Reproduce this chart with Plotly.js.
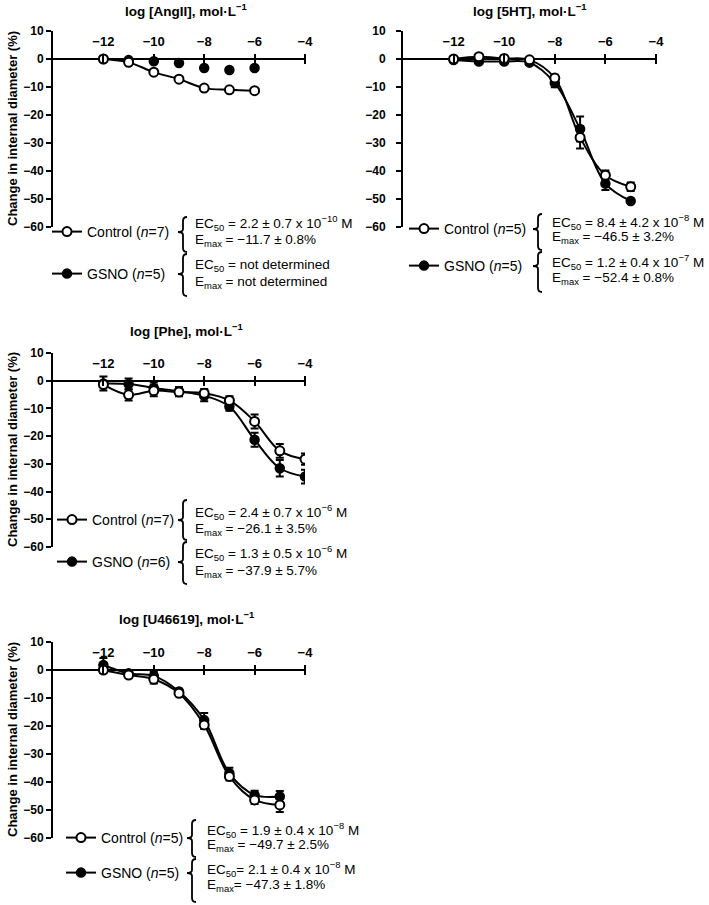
<!DOCTYPE html>
<html>
<head>
<meta charset="utf-8">
<script src="https://cdn.plot.ly/plotly-3.0.1.min.js"></script>
<style>html,body{margin:0;padding:0;background:#fff}#chart{width:709px;height:905px}</style>
</head>
<body>
<div id="chart"></div>
<script>
const W = 709, H = 905;
const fx = px => px / W;
const fy = py => 1 - py / H;
const FONT = 'Liberation Sans, Arial, sans-serif';

// log molar concentrations and % change in internal diameter (mean, SEM)
const logAngII = [-12, -11, -10, -9, -8, -7, -6];
const angIIControl = [0, -1.2, -4.7, -7.2, -10.4, -11, -11.3];
const angIIGsno = [0, -0.4, -0.8, -1.4, -3.2, -3.9, -3.2];

const log5HT = [-12, -11, -10, -9, -8, -7, -6, -5];
const ht5Control = [0, 0.8, 0.2, -0.3, -6.8, -28, -41.5, -45.6];
const ht5ControlErr = [0.5, 0.6, 0.5, 0.5, 1.2, 4, 1.7, 1.5];
const ht5Gsno = [-0.4, -0.9, -0.9, -1.3, -8.6, -25, -44.5, -50.7];
const ht5GsnoErr = [0.5, 0.5, 0.5, 0.5, 1.5, 4.5, 2.3, 0.5];

const logPhe = [-12, -11, -10, -9, -8, -7, -6, -5, -4];
const pheControl = [-1.4, -5.1, -3.6, -4.1, -4.5, -7.1, -14.7, -25.3, -28.3];
const pheControlErr = [0.8, 2, 2, 1.5, 1.5, 1.5, 2.5, 2.5, 2];
const pheGsno = [-1, -1.2, -2.6, -3.8, -5.4, -9.3, -21.3, -31.6, -34.6];
const pheGsnoErr = [2.5, 2, 2, 1.5, 2, 1.5, 2.5, 3, 2.5];

const logU466 = [-12, -11, -10, -9, -8, -7, -6, -5];
const u466Control = [0, -1.8, -3.3, -8.3, -19.6, -38, -46.4, -48.2];
const u466ControlErr = [1, 1, 1.5, 1, 1.5, 1.5, 1.5, 2.5];
const u466Gsno = [1.8, -1.2, -2.1, -7.7, -17.9, -36.9, -44.6, -45.2];
const u466GsnoErr = [2.5, 1, 1.5, 1, 2.5, 2, 1.5, 2];

const xTicks = [-12, -10, -8, -6, -4];
const xTickText = ['\u221212', '\u221210', '\u22128', '\u22126', '\u22124'];
const yTicks = [10, 0, -10, -20, -30, -40, -50, -60];
const yTickText = ['10', '0', '\u221210', '\u221220', '\u221230', '\u221240', '\u221250', '\u221260'];

const panels = [
  {title: 'log [AngII], mol·L<sup>\u22121</sup>', x0: 53, x1: 305, y0: 31, y1: 227, tx: 186, ty: 10, ytitle: true, ylstand: 0,
   ctrlN: 7, gsnoN: 5, legX: 47, legC: 232, legG: 274, bx: 183,
   bC: [217, 252, 232], bG: [254, 296, 274], ax: 193, lines: [223, 240, 265, 282],
   txt: ['EC<sub>50</sub> = 2.2 ± 0.7 x 10<sup>\u221210</sup> M', 'E<sub>max</sub> = \u221211.7 ± 0.8%',
         'EC<sub>50</sub> = not determined', 'E<sub>max</sub> = not determined']},
  {title: 'log [5HT], mol·L<sup>\u22121</sup>', x0: 403, x1: 656, y0: 31, y1: 227, tx: 530, ty: 10, ytitle: false, ylstand: 8,
   ctrlN: 5, gsnoN: 5, legX: 404, legC: 229, legG: 266, bx: 538,
   bC: [214, 250, 229], bG: [252, 292, 266], ax: 550, lines: [222, 238, 262, 278],
   txt: ['EC<sub>50</sub> = 8.4 ± 4.2 x 10<sup>\u22128</sup> M', 'E<sub>max</sub> = \u221246.5 ± 3.2%',
         'EC<sub>50</sub> = 1.2 ± 0.4 x 10<sup>\u22127</sup> M', 'E<sub>max</sub> = \u221252.4 ± 0.8%']},
  {title: 'log [Phe], mol·L<sup>\u22121</sup>', x0: 53, x1: 305, y0: 353, y1: 547, tx: 186, ty: 330, ytitle: true, ylstand: 0,
   ctrlN: 7, gsnoN: 6, legX: 52, legC: 520, legG: 562, bx: 183,
   bC: [500, 540, 520], bG: [542, 584, 562], ax: 193, lines: [512, 529, 553, 571],
   txt: ['EC<sub>50</sub> = 2.4 ± 0.7 x 10<sup>\u22126</sup> M', 'E<sub>max</sub> = \u221226.1 ± 3.5%',
         'EC<sub>50</sub> = 1.3 ± 0.5 x 10<sup>\u22126</sup> M', 'E<sub>max</sub> = \u221237.9 ± 5.7%']},
  {title: 'log [U46619], mol·L<sup>\u22121</sup>', x0: 53, x1: 305, y0: 642, y1: 838, tx: 186, ty: 618, ytitle: true, ylstand: 0,
   ctrlN: 5, gsnoN: 5, legX: 61, legC: 838, legG: 873, bx: 192,
   bC: [820, 857, 838], bG: [859, 902, 873], ax: 205, lines: [830, 845, 869, 885],
   txt: ['EC<sub>50</sub> = 1.9 ± 0.4 x 10<sup>\u22128</sup> M', 'E<sub>max</sub> = \u221249.7 ± 2.5%',
         'EC<sub>50</sub>= 2.1 ± 0.4 x 10<sup>\u22128</sup> M', 'E<sub>max</sub>= \u221247.3 ± 1.8%']}
];

const series = [
  {x: logAngII, c: angIIControl, ce: null, g: angIIGsno, ge: null, gLine: false},
  {x: log5HT, c: ht5Control, ce: ht5ControlErr, g: ht5Gsno, ge: ht5GsnoErr, gLine: true},
  {x: logPhe, c: pheControl, ce: pheControlErr, g: pheGsno, ge: pheGsnoErr, gLine: true},
  {x: logU466, c: u466Control, ce: u466ControlErr, g: u466Gsno, ge: u466GsnoErr, gLine: true}
];

const data = [];
const layout = {
  width: W, height: H,
  margin: {l: 0, r: 0, t: 0, b: 0},
  paper_bgcolor: '#fff', plot_bgcolor: 'rgba(0,0,0,0)',
  font: {family: FONT, color: '#000', size: 13},
  annotations: [], shapes: []
};

function brace(x, top, bot, mid) {
  return {
    type: 'path', xref: 'paper', yref: 'paper', line: {color: '#000', width: 1.8},
    path: `M ${fx(x + 4)},${fy(top)} Q ${fx(x)},${fy(top)} ${fx(x)},${fy(top + 4)} ` +
          `L ${fx(x)},${fy(mid - 3)} Q ${fx(x)},${fy(mid)} ${fx(x - 5)},${fy(mid)} ` +
          `Q ${fx(x)},${fy(mid)} ${fx(x)},${fy(mid + 3)} L ${fx(x)},${fy(bot - 4)} ` +
          `Q ${fx(x)},${fy(bot)} ${fx(x + 4)},${fy(bot)}`
  };
}

function errObj(arr) {
  if (!arr) return {visible: false};
  return {type: 'data', array: arr, visible: true, color: '#000', thickness: 2, width: 4};
}

panels.forEach((p, i) => {
  const n = i + 1;
  const xid = n === 1 ? 'x' : 'x' + n;
  const yid = n === 1 ? 'y' : 'y' + n;
  const xk = n === 1 ? 'xaxis' : 'xaxis' + n;
  const yk = n === 1 ? 'yaxis' : 'yaxis' + n;
  const zeroPx = p.y0 + (p.y1 - p.y0) * 10 / 70;
  const legC = 'legend' + (2 * i + 1 === 1 ? '' : 2 * i + 1);
  const legG = 'legend' + (2 * i + 2);
  const s = series[i];

  layout[xk] = {
    domain: [fx(p.x0), fx(p.x1)], range: [-14, -4], anchor: 'free', position: fy(zeroPx + 5),
    side: 'top', showline: false, showgrid: false, zeroline: false,
    tickmode: 'array', tickvals: xTicks, ticktext: xTickText,
    ticks: 'outside', ticklen: 10, tickwidth: 2, tickcolor: '#000', ticklabelstandoff: 3,
    tickfont: {family: FONT, size: 13, weight: 'bold', color: '#000'}, fixedrange: true
  };
  layout[yk] = {
    domain: [fy(p.y1), fy(p.y0)], range: [-60, 10], anchor: xid,
    showline: true, linewidth: 2, linecolor: '#000', showgrid: false,
    zeroline: true, zerolinewidth: 2, zerolinecolor: '#000',
    tickmode: 'array', tickvals: yTicks, ticktext: yTickText,
    ticks: 'outside', ticklen: 5, tickwidth: 2, tickcolor: '#000', ticklabelstandoff: p.ylstand,
    tickfont: {family: FONT, size: 12, weight: 'bold', color: '#000'}, fixedrange: true
  };

  // GSNO (filled) under Control (open)
  data.push({
    x: s.x, y: s.g, xaxis: xid, yaxis: yid, type: 'scatter',
    mode: s.gLine ? 'lines+markers' : 'markers',
    name: 'GSNO (<i>n</i>=' + p.gsnoN + ')', legend: legG, showlegend: s.gLine,
    line: {color: '#000', width: 2, shape: 'spline', smoothing: 1},
    marker: {symbol: 'circle', size: 9, color: '#000', line: {color: '#000', width: 1.5}},
    error_y: errObj(s.ge)
  });
  if (!s.gLine) {
    // legend entry only
    data.push({
      x: [null], y: [null], xaxis: xid, yaxis: yid, type: 'scatter', mode: 'lines+markers',
      name: 'GSNO (<i>n</i>=' + p.gsnoN + ')', legend: legG, showlegend: true,
      line: {color: '#000', width: 2},
      marker: {symbol: 'circle', size: 9, color: '#000', line: {color: '#000', width: 1.5}}
    });
  }
  data.push({
    x: s.x, y: s.c, xaxis: xid, yaxis: yid, type: 'scatter', mode: 'lines+markers',
    name: 'Control (<i>n</i>=' + p.ctrlN + ')', legend: legC, showlegend: true,
    line: {color: '#000', width: 2, shape: 'spline', smoothing: 1},
    marker: {symbol: 'circle', size: 9, color: '#fff', line: {color: '#000', width: 2}},
    error_y: errObj(s.ce)
  });

  const legBase = {
    xanchor: 'left', yanchor: 'middle', bgcolor: 'rgba(0,0,0,0)', borderwidth: 0,
    itemwidth: 30, font: {family: FONT, size: 14, color: '#000'}, itemclick: false, itemdoubleclick: false
  };
  layout[legC] = Object.assign({}, legBase, {x: fx(p.legX), y: fy(p.legC)});
  layout[legG] = Object.assign({}, legBase, {x: fx(p.legX), y: fy(p.legG)});

  layout.annotations.push({
    xref: 'paper', yref: 'paper', x: fx(p.tx), y: fy(p.ty), xanchor: 'center', yanchor: 'middle',
    text: '<b>' + p.title + '</b>', showarrow: false, font: {family: FONT, size: 13.5, color: '#000'}
  });
  if (p.ytitle) {
    layout.annotations.push({
      xref: 'paper', yref: 'paper', x: fx(12), y: fy((p.y0 + p.y1) / 2), xanchor: 'center', yanchor: 'middle',
      text: '<b>Change in internal diameter (%)</b>', textangle: -90, showarrow: false,
      font: {family: FONT, size: 13, color: '#000'}
    });
  }
  p.txt.forEach((t, k) => {
    layout.annotations.push({
      xref: 'paper', yref: 'paper', x: fx(p.ax), y: fy(p.lines[k]), xanchor: 'left', yanchor: 'middle',
      text: t, showarrow: false, font: {family: FONT, size: 13.5, color: '#000'}
    });
  });
  layout.shapes.push(brace(p.bx, p.bC[0], p.bC[1], p.bC[2]));
  layout.shapes.push(brace(p.bx, p.bG[0], p.bG[1], p.bG[2]));
});

Plotly.newPlot('chart', data, layout, {displayModeBar: false, staticPlot: true});
</script>
</body>
</html>
